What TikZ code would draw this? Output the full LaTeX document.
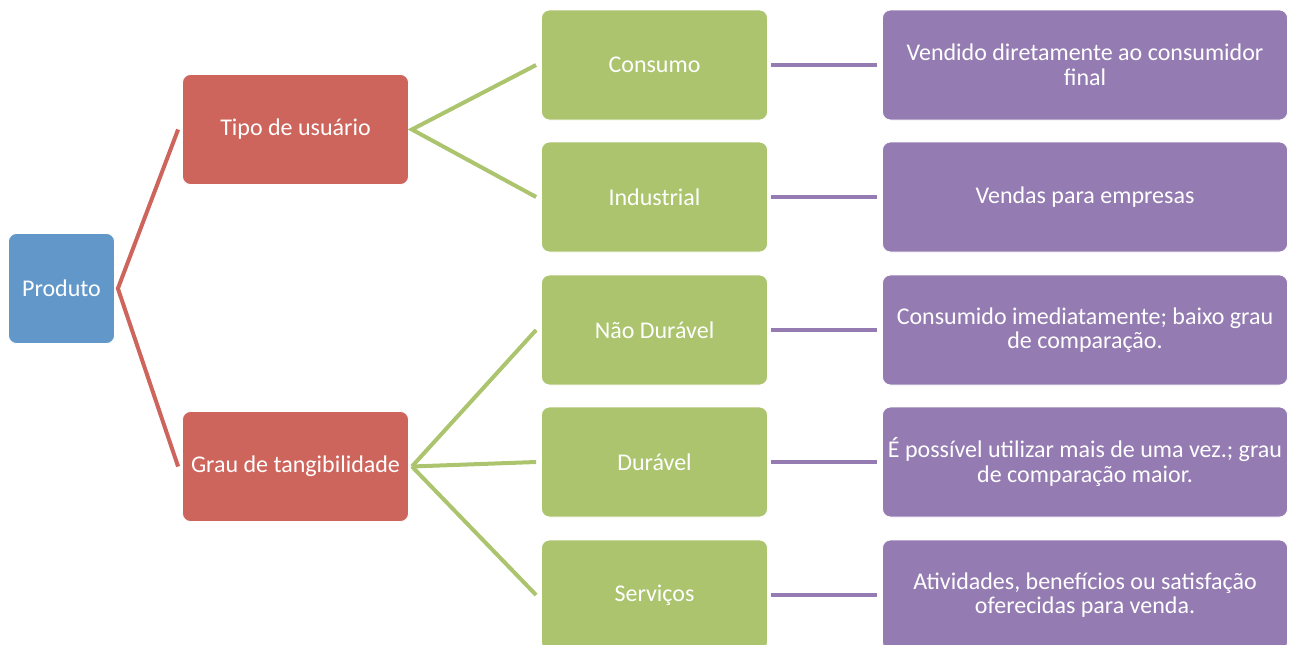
\documentclass[tikz,border=0pt]{standalone}
\usepackage{fontspec}
\setmainfont{Carlito}
\definecolor{cblue}{HTML}{6197C9}
\definecolor{cred}{HTML}{CD655D}
\definecolor{cgreen}{HTML}{ABC46D}
\definecolor{cpurple}{HTML}{947BB2}
\begin{document}
\begin{tikzpicture}[x=1pt,y=-1pt,
  box/.style={rectangle,rounded corners=8pt,draw=white,line width=0.8pt,text=white,
    align=center,inner sep=2pt,font=\fontsize{24}{24.5}\selectfont},
  bluebox/.style={box,fill=cblue,minimum width=106pt,minimum height=110pt},
  redbox/.style={box,fill=cred,minimum width=226pt,minimum height=110pt},
  greenbox/.style={box,fill=cgreen,minimum width=226pt,minimum height=110pt},
  purplebox/.style={box,fill=cpurple,minimum width=405pt,minimum height=110pt},
  redline/.style={draw=cred,line width=4pt},
  greenline/.style={draw=cgreen,line width=4pt},
  purpleline/.style={draw=cpurple,line width=4pt}]
\useasboundingbox (0,0) rectangle (1296,645);
\node[bluebox] (prod) at (61.5,288.5) {Produto};
\node[redbox] (tipo) at (295.5,129.5) {Tipo de usuário};
\node[redbox] (grau) at (295.5,466.5) {Grau de tangibilidade};
\node[greenbox] (cons) at (654.5,65) {Consumo};
\node[greenbox] (ind) at (654.5,197) {Industrial};
\node[greenbox] (nd) at (654.5,330) {Não Durável};
\node[greenbox] (dur) at (654.5,462) {Durável};
\node[greenbox] (serv) at (654.5,595) {Serviços};
\node[purplebox] (p1) at (1085,65) {Vendido diretamente ao consumidor\\final};
\node[purplebox] (p2) at (1085,197) {Vendas para empresas};
\node[purplebox] (p3) at (1085,330) {Consumido imediatamente; baixo grau\\de comparação.};
\node[purplebox] (p4) at (1085,462) {É possível utilizar mais de uma vez.; grau\\de comparação maior.};
\node[purplebox] (p5) at (1085,595) {Atividades, benefícios ou satisfação\\oferecidas para venda.};
\coordinate (ps) at ([xshift=3pt]prod.east);
\draw[redline] ([xshift=-4pt]tipo.west) -- (ps) -- ([xshift=-4pt]grau.west);
\coordinate (ts) at ([xshift=3pt]tipo.east);
\draw[greenline] ([xshift=-5pt]cons.west) -- (ts) -- ([xshift=-5pt]ind.west);
\coordinate (gs) at ([xshift=3pt]grau.east);
\draw[greenline] (gs) -- ([xshift=-5pt]nd.west);
\draw[greenline] (gs) -- ([xshift=-5pt]dur.west);
\draw[greenline] (gs) -- ([xshift=-5pt]serv.west);
\draw[purpleline] ([xshift=3pt]cons.east) -- ([xshift=-5pt]p1.west);
\draw[purpleline] ([xshift=3pt]ind.east) -- ([xshift=-5pt]p2.west);
\draw[purpleline] ([xshift=3pt]nd.east) -- ([xshift=-5pt]p3.west);
\draw[purpleline] ([xshift=3pt]dur.east) -- ([xshift=-5pt]p4.west);
\draw[purpleline] ([xshift=3pt]serv.east) -- ([xshift=-5pt]p5.west);
\end{tikzpicture}
\end{document}
